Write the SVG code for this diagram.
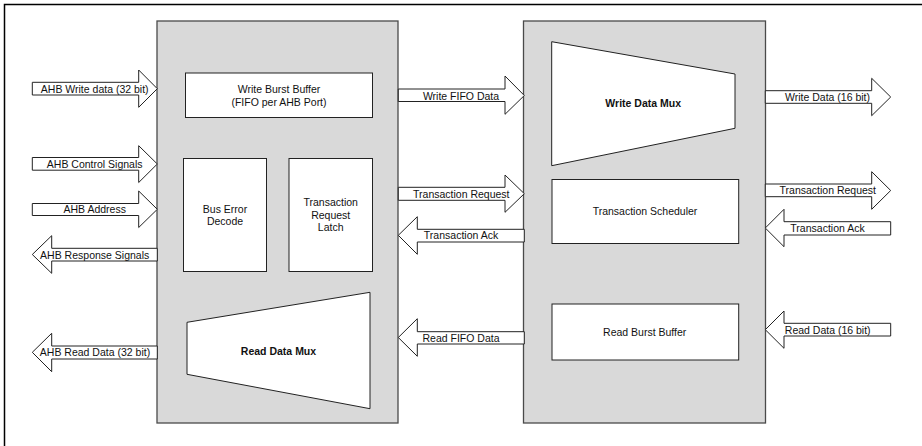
<svg xmlns="http://www.w3.org/2000/svg" width="922" height="446" viewBox="0 0 922 446">
<style>
.bg{fill:#fff}
.frame{fill:none;stroke:#000;stroke-width:1.5}
.blk{fill:#d9d9d9;stroke:#4a4a4a;stroke-width:1.3}
.box{fill:#fff;stroke:#222;stroke-width:1}
.arr{fill:#fff;stroke:#222;stroke-width:1}
text{font-family:"Liberation Sans",Arial,sans-serif;font-size:10.5px;fill:#111;text-anchor:middle;dominant-baseline:central}
.b{font-weight:bold}
</style>
<rect class="bg" x="0" y="0" width="922" height="446"/>
<path class="frame" d="M4.5,446 V4.5 H922"/>

<g id="left-block">
<rect class="blk" x="157" y="21" width="241" height="402"/>
</g>
<g id="right-block">
<rect class="blk" x="523.5" y="21" width="242" height="402"/>
</g>

<g id="write-burst-buffer">
<rect class="box" x="185.5" y="73" width="187" height="44.5"/>
<text x="279" y="89">Write Burst Buffer</text>
<text x="279" y="101.5">(FIFO per AHB Port)</text>
</g>
<g id="bus-error-decode">
<rect class="box" x="183.5" y="158.5" width="83" height="113"/>
<text x="225" y="208.5">Bus Error</text>
<text x="225" y="221">Decode</text>
</g>
<g id="transaction-request-latch">
<rect class="box" x="289" y="158.5" width="83.5" height="113"/>
<text x="330.7" y="202.3">Transaction</text>
<text x="330.7" y="214.5">Request</text>
<text x="330.7" y="227">Latch</text>
</g>
<g id="read-data-mux">
<polygon class="box" points="187,322.3 370,292.3 370,408.7 187,374.3"/>
<text class="b" x="278.5" y="350.7">Read Data Mux</text>
</g>
<g id="write-data-mux">
<polygon class="box" points="551.7,41.7 735,74 735,128.3 551.7,165.7"/>
<text class="b" x="643.2" y="103.3">Write Data Mux</text>
</g>
<g id="transaction-scheduler">
<rect class="box" x="552" y="179.5" width="186.7" height="64"/>
<text x="645" y="210.7">Transaction Scheduler</text>
</g>
<g id="read-burst-buffer">
<rect class="box" x="552" y="304" width="186.7" height="56"/>
<text x="644.7" y="331.7">Read Burst Buffer</text>
</g>

<g id="connectors">
<g id="c-ahb-write">
<polygon class="arr" points="32.3,82.3 138.7,82.3 138.7,70 157.3,88.7 138.7,107.3 138.7,95 32.3,95"/>
<text x="94.7" y="88.7">AHB Write data (32 bit)</text>
</g>
<g id="c-ahb-control">
<polygon class="arr" points="32.3,157.5 138.7,157.5 138.7,145.7 157.3,164 138.7,182.5 138.7,170.2 32.3,170.2"/>
<text x="94.7" y="164">AHB Control Signals</text>
</g>
<g id="c-ahb-address">
<polygon class="arr" points="32.3,203.5 138.7,203.5 138.7,191 157.3,209.3 138.7,227.5 138.7,215.5 32.3,215.5"/>
<text x="94.7" y="209.3">AHB Address</text>
</g>
<g id="c-ahb-response">
<polygon class="arr" points="157.3,248.3 51.7,248.3 51.7,235.7 32.3,254.5 51.7,273.3 51.7,261 157.3,261"/>
<text x="94.7" y="254.5">AHB Response Signals</text>
</g>
<g id="c-ahb-read">
<polygon class="arr" points="157.3,346 51.7,346 51.7,333.3 32.3,352.3 51.7,371.7 51.7,359 157.3,359"/>
<text x="95" y="352.3">AHB Read Data (32 bit)</text>
</g>
<g id="c-write-fifo">
<polygon class="arr" points="398.3,89 505,89 505,76 524.3,95.5 505,114.3 505,101.5 398.3,101.5"/>
<text x="461" y="95.5">Write FIFO Data</text>
</g>
<g id="c-trans-req-mid">
<polygon class="arr" points="398.3,187.3 505,187.3 505,175 524.3,193.7 505,212.3 505,200.3 398.3,200.3"/>
<text x="461.3" y="193.7">Transaction Request</text>
</g>
<g id="c-trans-ack-mid">
<polygon class="arr" points="524.3,229.3 417.3,229.3 417.3,216.7 398.3,235.3 417.3,254.3 417.3,242 524.3,242"/>
<text x="461" y="235.3">Transaction Ack</text>
</g>
<g id="c-read-fifo">
<polygon class="arr" points="524.3,331.7 417.3,331.7 417.3,318.7 398.3,337.5 417.3,356.3 417.3,344 524.3,344"/>
<text x="461" y="337.5">Read FIFO Data</text>
</g>
<g id="c-write-data">
<polygon class="arr" points="765.3,90.7 871.7,90.7 871.7,78.3 890.7,97 871.7,115.7 871.7,103.3 765.3,103.3"/>
<text x="827.5" y="97">Write Data (16 bit)</text>
</g>
<g id="c-trans-req-right">
<polygon class="arr" points="765.3,184 871.7,184 871.7,171.7 890.7,190.5 871.7,209.3 871.7,196.7 765.3,196.7"/>
<text x="827.8" y="190.4">Transaction Request</text>
</g>
<g id="c-trans-ack-right">
<polygon class="arr" points="890.7,221.7 784,221.7 784,209.3 765.3,228 784,246.7 784,235 890.7,235"/>
<text x="827.5" y="228.3">Transaction Ack</text>
</g>
<g id="c-read-data">
<polygon class="arr" points="890.7,323.3 784,323.3 784,311 765.3,329.7 784,348.3 784,336 890.7,336"/>
<text x="827.7" y="329.5">Read Data (16 bit)</text>
</g>
</g>
</svg>
